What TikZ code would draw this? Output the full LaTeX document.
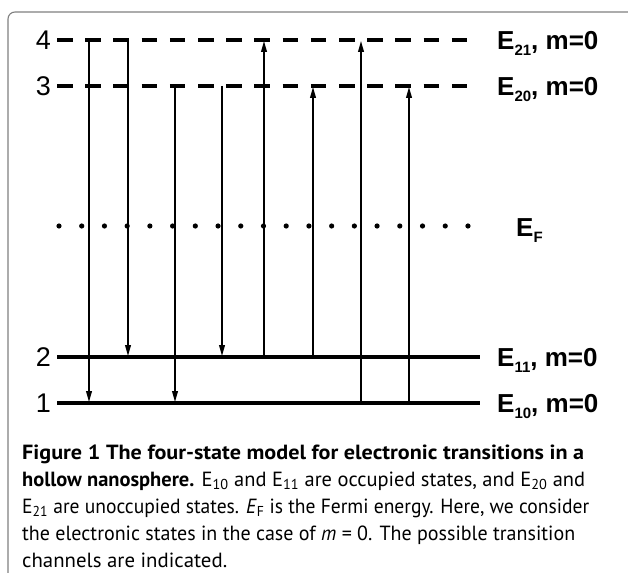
\documentclass[tikz,border=0pt]{standalone}
\usepackage{fontspec}
\usepackage{graphicx}
\setmainfont{Liberation Sans}
\newfontfamily\capfont{PT Sans}
\usetikzlibrary{arrows.meta}
\newcommand\fitline[2]{\setbox0=\hbox{#2}\pgfmathsetmacro\fitratio{#1/\wd0}\scalebox{\fitratio}[1]{\box0}}
\begin{document}
\begin{tikzpicture}[x=1pt,y=-1pt,
  lvl/.style={line width=3.1pt},
  dlvl/.style={line width=3.1pt, dash pattern=on 15.5pt off 12.7pt},
  flvl/.style={line width=5.2pt, line cap=round, dash pattern=on 0pt off 22.72pt},
  trans/.style={line width=1.4pt, -{Triangle[length=11pt,width=5.8pt]}},
  numlab/.style={inner sep=0pt, anchor=base east, font=\fontsize{27}{27}\selectfont},
  elab/.style={inner sep=0pt, anchor=base west, font=\fontsize{26}{26}\selectfont\bfseries},
  captext/.style={inner sep=0pt, anchor=base west, font=\capfont\fontsize{20.5}{20.5}\selectfont}]
\useasboundingbox (0,0) rectangle (628,572);
\clip (0,0) rectangle (628,572);
\draw[gray, line width=1.1pt, rounded corners=7pt] (8,590) -- (8,12) -- (650,12);
% level end points
\coordinate (L4a) at (57,40);  \coordinate (L4b) at (467,40);
\coordinate (L3a) at (57,86);  \coordinate (L3b) at (467,86);
\coordinate (LFa) at (59,226); \coordinate (LFb) at (470,226);
\coordinate (L2a) at (57,357); \coordinate (L2b) at (480,357);
\coordinate (L1a) at (57,403); \coordinate (L1b) at (480,403);
\draw[dlvl] (L4a) -- (L4b);
\draw[dlvl] (L3a) -- (L3b);
\draw[flvl] (LFa) -- (LFb);
\draw[lvl] (L2a) -- (L2b);
\draw[lvl] (L1a) -- (L1b);
% labels
\node[numlab] (n4) at (51,49.7) {4};
\node[numlab] (n3) at (51,95.7) {3};
\node[numlab] (n2) at (51,366.7) {2};
\node[numlab] (n1) at (51,412.7) {1};
\node[elab] (e21) at (497,49.5) {E\raisebox{-6pt}{\fontsize{15}{15}\selectfont 21}, m=0};
\node[elab] (e20) at (497,95.5) {E\raisebox{-6pt}{\fontsize{15}{15}\selectfont 20}, m=0};
\node[elab] (ef) at (516,236) {E\raisebox{-6pt}{\fontsize{15}{15}\selectfont F}};
\node[elab] (e11) at (497,366.5) {E\raisebox{-6pt}{\fontsize{15}{15}\selectfont 11}, m=0};
\node[elab] (e10) at (497,412.5) {E\raisebox{-6pt}{\fontsize{15}{15}\selectfont 10}, m=0};
% transition end points
\coordinate (a1s) at (89,40);   \coordinate (a1e) at (89,402);
\coordinate (a2s) at (128,40);  \coordinate (a2e) at (128,356);
\coordinate (a3s) at (175,86);  \coordinate (a3e) at (175,402);
\coordinate (a4s) at (222,86);  \coordinate (a4e) at (222,356);
\coordinate (a5s) at (264,357); \coordinate (a5e) at (264,41);
\coordinate (a6s) at (313,357); \coordinate (a6e) at (313,87);
\coordinate (a7s) at (361,403); \coordinate (a7e) at (361,41);
\coordinate (a8s) at (409,403); \coordinate (a8e) at (409,87);
\foreach \i in {1,...,8} {\draw[trans] (a\i s) -- (a\i e);}
% caption
\node[captext] (c1) at (22,459) {\fitline{562}{\bfseries Figure 1 The four-state model for electronic transitions in a}};
\node[captext] (c2) at (22,486) {\fitline{563}{\textbf{hollow nanosphere.} E\textsubscript{10} and E\textsubscript{11} are occupied states, and E\textsubscript{20} and}};
\node[captext] (c3) at (22,513) {\fitline{567}{E\textsubscript{21} are unoccupied states. \textit{E}\textsubscript{F} is the Fermi energy. Here, we consider}};
\node[captext] (c4) at (22,540) {\fitline{553}{the electronic states in the case of \textit{m} = 0. The possible transition}};
\node[captext] (c5) at (22,567) {\fitline{205}{channels are indicated.}};
\end{tikzpicture}
\end{document}
